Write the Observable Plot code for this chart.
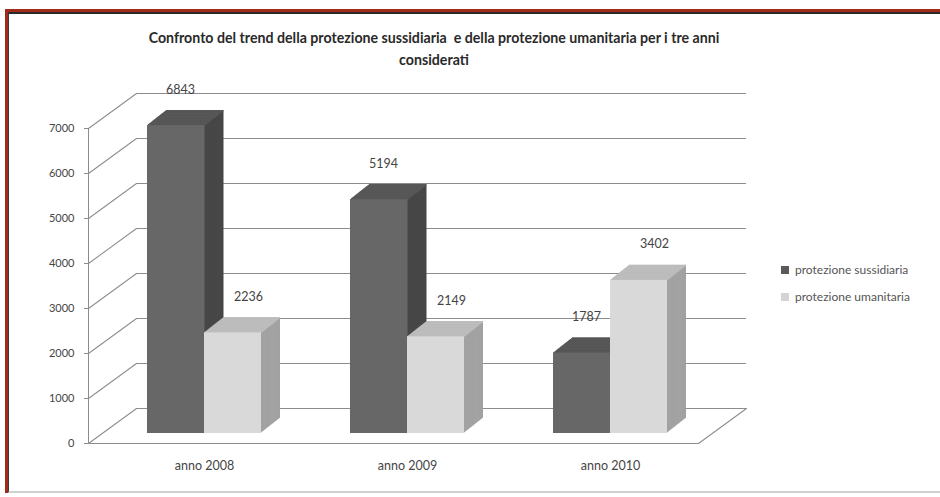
<!DOCTYPE html>
<html>
<head>
<meta charset="utf-8">
<script src="https://cdn.jsdelivr.net/npm/d3@7"></script>
<script src="https://cdn.jsdelivr.net/npm/@observablehq/plot@0.6"></script>
<style>
html, body { margin: 0; padding: 0; background: #fff; width: 940px; height: 497px; overflow: hidden; font-family: Lato, sans-serif; }
#border { position: absolute; left: 5px; top: 9px; width: 960px; height: 484px; border-top: 3px solid #a12a1b; border-left: 3px solid #a12a1b; box-sizing: border-box; }
#inner { position: absolute; left: 0; top: 0; right: 0; bottom: 0; border-top: 2px solid #2a2a2a; border-left: 1px solid #3a3a3a; border-bottom: 2px solid #d0d0d0; }
#title { position: absolute; left: 0; top: 27px; width: 868px; text-align: center; font: bold 14.2px/22px Lato, sans-serif; color: #2a2a2a; white-space: pre; }
#chart { position: absolute; left: 0; top: 75px; }
#legend { position: absolute; left: 781px; top: 262px; }
.lg-swatch { margin-bottom: 11px !important; }
</style>
</head>
<body>
<div id="border"><div id="inner"></div></div>
<div id="title"></div>
<div id="chart"></div>
<div id="legend"></div>
<script>
// ---- data ----
const titleLines = ["Confronto del trend della protezione sussidiaria  e della protezione umanitaria per i tre anni", "considerati"];
const years = ["2008", "2009", "2010"];
const categoryLabels = ["anno 2008", "anno 2009", "anno 2010"];
const series = ["protezione sussidiaria", "protezione umanitaria"];
const sussidiaria = [6843, 5194, 1787];
const umanitaria = [2236, 2149, 3402];
const yTicks = [0, 1000, 2000, 3000, 4000, 5000, 6000, 7000];

// ---- styles ----
const frontColors = ["#676767", "#d9d9d9"];
const topColors = ["#575757", "#bdbdbd"];
const sideColors = ["#474747", "#a2a2a2"];
const gridColor = "#8c8c8c";

const rows = years.flatMap((y, i) => [
  {year: y, series: series[0], value: sussidiaria[i]},
  {year: y, series: series[1], value: umanitaria[i]}
]);

document.getElementById("title").textContent = titleLines.join("\n");

// depth geometry (pixels)
const wallDX = 48, wallDY = -35;      // full depth of floor / side wall
const barDX = 14, barDY = -10;        // bar front plane
const depthX = 19, depthY = -15;      // bar depth
const N = 20;
const lineShape = {draw(context, l) { context.moveTo(0, 0); context.lineTo(0, -l); }};
const wallLen = Math.hypot(wallDX, wallDY);
const wallRot = Math.atan2(wallDX, -wallDY) * 180 / Math.PI;

function prism(si, inset) {
  const data = rows.filter(d => d.series === series[si]);
  const marks = [];
  for (let k = N; k >= 1; k--) {
    marks.push(Plot.barY(data, {x: "year", y: "value", fill: sideColors[si], dx: barDX + depthX * k / N, dy: barDY + depthY * k / N, ...inset}));
  }
  for (let k = N; k >= 0; k--) {
    marks.push(Plot.tickY(data, {x: "year", y: "value", stroke: topColors[si], strokeWidth: 1.3, dx: barDX + depthX * k / N, dy: barDY + depthY * k / N, ...inset}));
  }
  marks.push(Plot.barY(data, {x: "year", y: "value", fill: "series", dx: barDX, dy: barDY, ...inset}));
  return marks;
}

const chart = Plot.plot({
  width: 940,
  height: 410,
  marginTop: 53,
  marginBottom: 42,
  marginLeft: 88,
  marginRight: 242,
  style: {background: "transparent", fontFamily: "Lato, sans-serif", fontSize: "11px", color: "#454545"},
  x: {domain: years, paddingInner: 0.44, paddingOuter: 0.22},
  y: {domain: [0, 7000]},
  color: {domain: series, range: frontColors},
  marks: [
    Plot.ruleY(yTicks, {dx: wallDX, dy: wallDY, stroke: gridColor}),
    Plot.vector(yTicks, {y: d => d, frameAnchor: "left", anchor: "start", length: wallLen, rotate: wallRot, shape: lineShape, stroke: gridColor, strokeWidth: 1}),
    Plot.vector([0], {y: d => d, frameAnchor: "right", anchor: "start", length: wallLen, rotate: wallRot, shape: lineShape, stroke: gridColor, strokeWidth: 1}),
    Plot.ruleY([0], {stroke: gridColor}),
    Plot.frame({anchor: "left", stroke: gridColor}),
    ...prism(0, {insetRight: 56.5}),
    ...prism(1, {insetLeft: 57}),
    Plot.text(rows.filter(d => d.series === series[0]), {x: "year", y: "value", text: d => String(d.value), dx: -10, dy: -46, fontSize: 12.5, fill: "#444"}),
    Plot.text(rows.filter(d => d.series === series[1]), {x: "year", y: "value", text: d => String(d.value), dx: 58, dy: -46, fontSize: 12.5, fill: "#444"}),
    Plot.axisY({ticks: yTicks, tickSize: 4, tickPadding: 10, label: null, fontSize: 11, tickFormat: d => String(d), stroke: gridColor}),
    Plot.axisX({tickSize: 0, tickPadding: 18, dx: barDX, label: null, fontSize: 12.5, tickFormat: d => categoryLabels[years.indexOf(d)]})
  ]
});
document.getElementById("chart").append(chart);

const legend = Plot.legend({
  color: {domain: series, range: ["#5a5a5a", "#d4d4d4"]},
  legend: "swatches",
  columns: 1,
  swatchSize: 8,
  className: "lg",
  style: {fontFamily: "Lato, sans-serif", fontSize: "12px", color: "#555"}
});
document.getElementById("legend").append(legend);
</script>
</body>
</html>
